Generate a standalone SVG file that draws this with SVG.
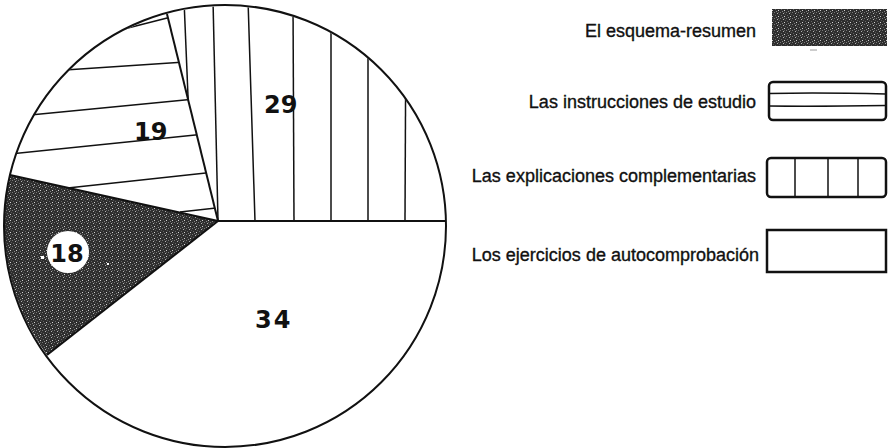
<svg xmlns="http://www.w3.org/2000/svg" width="888" height="448" viewBox="0 0 888 448">
  <defs>
    <pattern id="stip" width="6" height="6" patternUnits="userSpaceOnUse">
      <rect width="6" height="6" fill="#2e2e2e"/>
      <rect x="0" y="0" width="1" height="1" fill="#777"/>
      <rect x="3" y="1" width="1" height="1" fill="#b0b0b0"/>
      <rect x="1" y="3" width="1" height="1" fill="#666"/>
      <rect x="4" y="4" width="1" height="1" fill="#d0d0d0"/>
      <rect x="2" y="5" width="1" height="1" fill="#888"/>
      <rect x="5" y="2" width="1" height="1" fill="#555"/>
      <rect x="4" y="0" width="1" height="1" fill="#5a5a5a"/>
    </pattern>
    <clipPath id="clip19">
      <path d="M218,221 L10,175 A221,221 0 0 1 167,14 Z"/>
    </clipPath>
    <clipPath id="clip29">
      <path d="M218,221 L167,14 A221,221 0 0 1 446,221 Z"/>
    </clipPath>
    <style>
      .edge { fill: none; stroke: #111; stroke-width: 2; }
      .hatch { stroke: #111; stroke-width: 1.5; fill: none; }
      .num { font-family: "DejaVu Sans", "Liberation Sans", sans-serif; font-weight: bold; font-size: 24px; fill: #111; }
      .leg { font-family: "Liberation Sans", Arial, sans-serif; font-size: 18px; fill: #111; stroke: #111; stroke-width: 0.35; text-anchor: end; }
      .box { stroke: #111; stroke-width: 2.5; fill: #fff; }
    </style>
  </defs>
  <rect width="888" height="448" fill="#fff"/>

  <g id="pie">
    <g id="slice-34">
      <path d="M218,221 L446,221 A221,221 0 0 1 47,355 Z" fill="#fff"/>
      <text class="num" x="255" y="328" letter-spacing="2">34</text>
    </g>
    <g id="slice-18">
      <path d="M218,221 L47,355 A221,221 0 0 1 10,175 Z" fill="url(#stip)"/>
      <circle cx="68" cy="252" r="21" fill="#fff"/>
      <text class="num" x="67" y="262" text-anchor="middle">18</text>
      <rect x="41" y="256" width="3" height="3" fill="#fff"/>
      <rect x="107" y="263" width="2" height="2" fill="#fff"/>
    </g>
    <g id="slice-19">
      <path d="M218,221 L10,175 A221,221 0 0 1 167,14 Z" fill="#fff"/>
      <g clip-path="url(#clip19)" class="hatch">
        <line x1="120" y1="30" x2="175" y2="16"/>
        <line x1="50" y1="71" x2="185" y2="62"/>
        <line x1="20" y1="116" x2="195" y2="99"/>
        <line x1="0" y1="155" x2="205" y2="134"/>
        <line x1="40" y1="191" x2="215" y2="172"/>
        <line x1="180" y1="212" x2="216" y2="208"/>
      </g>
      <text class="num" x="134" y="140">19</text>
    </g>
    <g id="slice-29">
      <path d="M218,221 L167,14 A221,221 0 0 1 446,221 Z" fill="#fff"/>
      <g clip-path="url(#clip29)" class="hatch">
        <line x1="184" y1="0" x2="189" y2="120"/>
        <line x1="213" y1="0" x2="218" y2="221"/>
        <line x1="248" y1="0" x2="255" y2="221"/>
        <line x1="293" y1="0" x2="294" y2="221"/>
        <line x1="331" y1="0" x2="331" y2="221"/>
        <line x1="368" y1="0" x2="368" y2="221"/>
        <line x1="406" y1="0" x2="405" y2="221"/>
      </g>
      <text class="num" x="264" y="113">29</text>
    </g>
  </g>

  <g id="connectors">
    <circle class="edge" cx="225" cy="226" r="221"/>
    <line class="edge" x1="218" y1="221" x2="446" y2="221"/>
    <line class="edge" x1="218" y1="221" x2="167" y2="14"/>
    <line class="edge" x1="218" y1="221" x2="10" y2="175" stroke-width="2.5"/>
    <line class="edge" x1="218" y1="221" x2="47" y2="355"/>
  </g>

  <g id="legend-esquema">
    <text class="leg" x="756" y="37">El esquema-resumen</text>
    <rect x="772" y="9" width="115" height="37" fill="url(#stip)"/>
    <line x1="810" y1="50" x2="817" y2="50" stroke="#999" stroke-width="1"/>
  </g>
  <g id="legend-instrucciones">
    <text class="leg" x="756" y="108">Las instrucciones de estudio</text>
    <rect class="box" x="769" y="82" width="117" height="38" rx="4"/>
    <path d="M769,93.5 Q820,92.5 886,94" class="hatch" stroke-width="2"/>
    <path d="M769,106 Q820,106.5 886,105.5" class="hatch" stroke-width="2"/>
  </g>
  <g id="legend-explicaciones">
    <text class="leg" x="756" y="182">Las explicaciones complementarias</text>
    <rect class="box" x="767" y="158" width="119" height="39" rx="4"/>
    <line class="hatch" x1="795" y1="158" x2="795" y2="197" stroke-width="2"/>
    <line class="hatch" x1="828" y1="158" x2="828" y2="197" stroke-width="2"/>
    <line class="hatch" x1="858" y1="158" x2="858" y2="197" stroke-width="2"/>
  </g>
  <g id="legend-ejercicios">
    <text class="leg" x="759" y="261">Los ejercicios de autocomprobación</text>
    <rect class="box" x="767" y="230" width="119" height="42" stroke-width="2"/>
  </g>
</svg>
